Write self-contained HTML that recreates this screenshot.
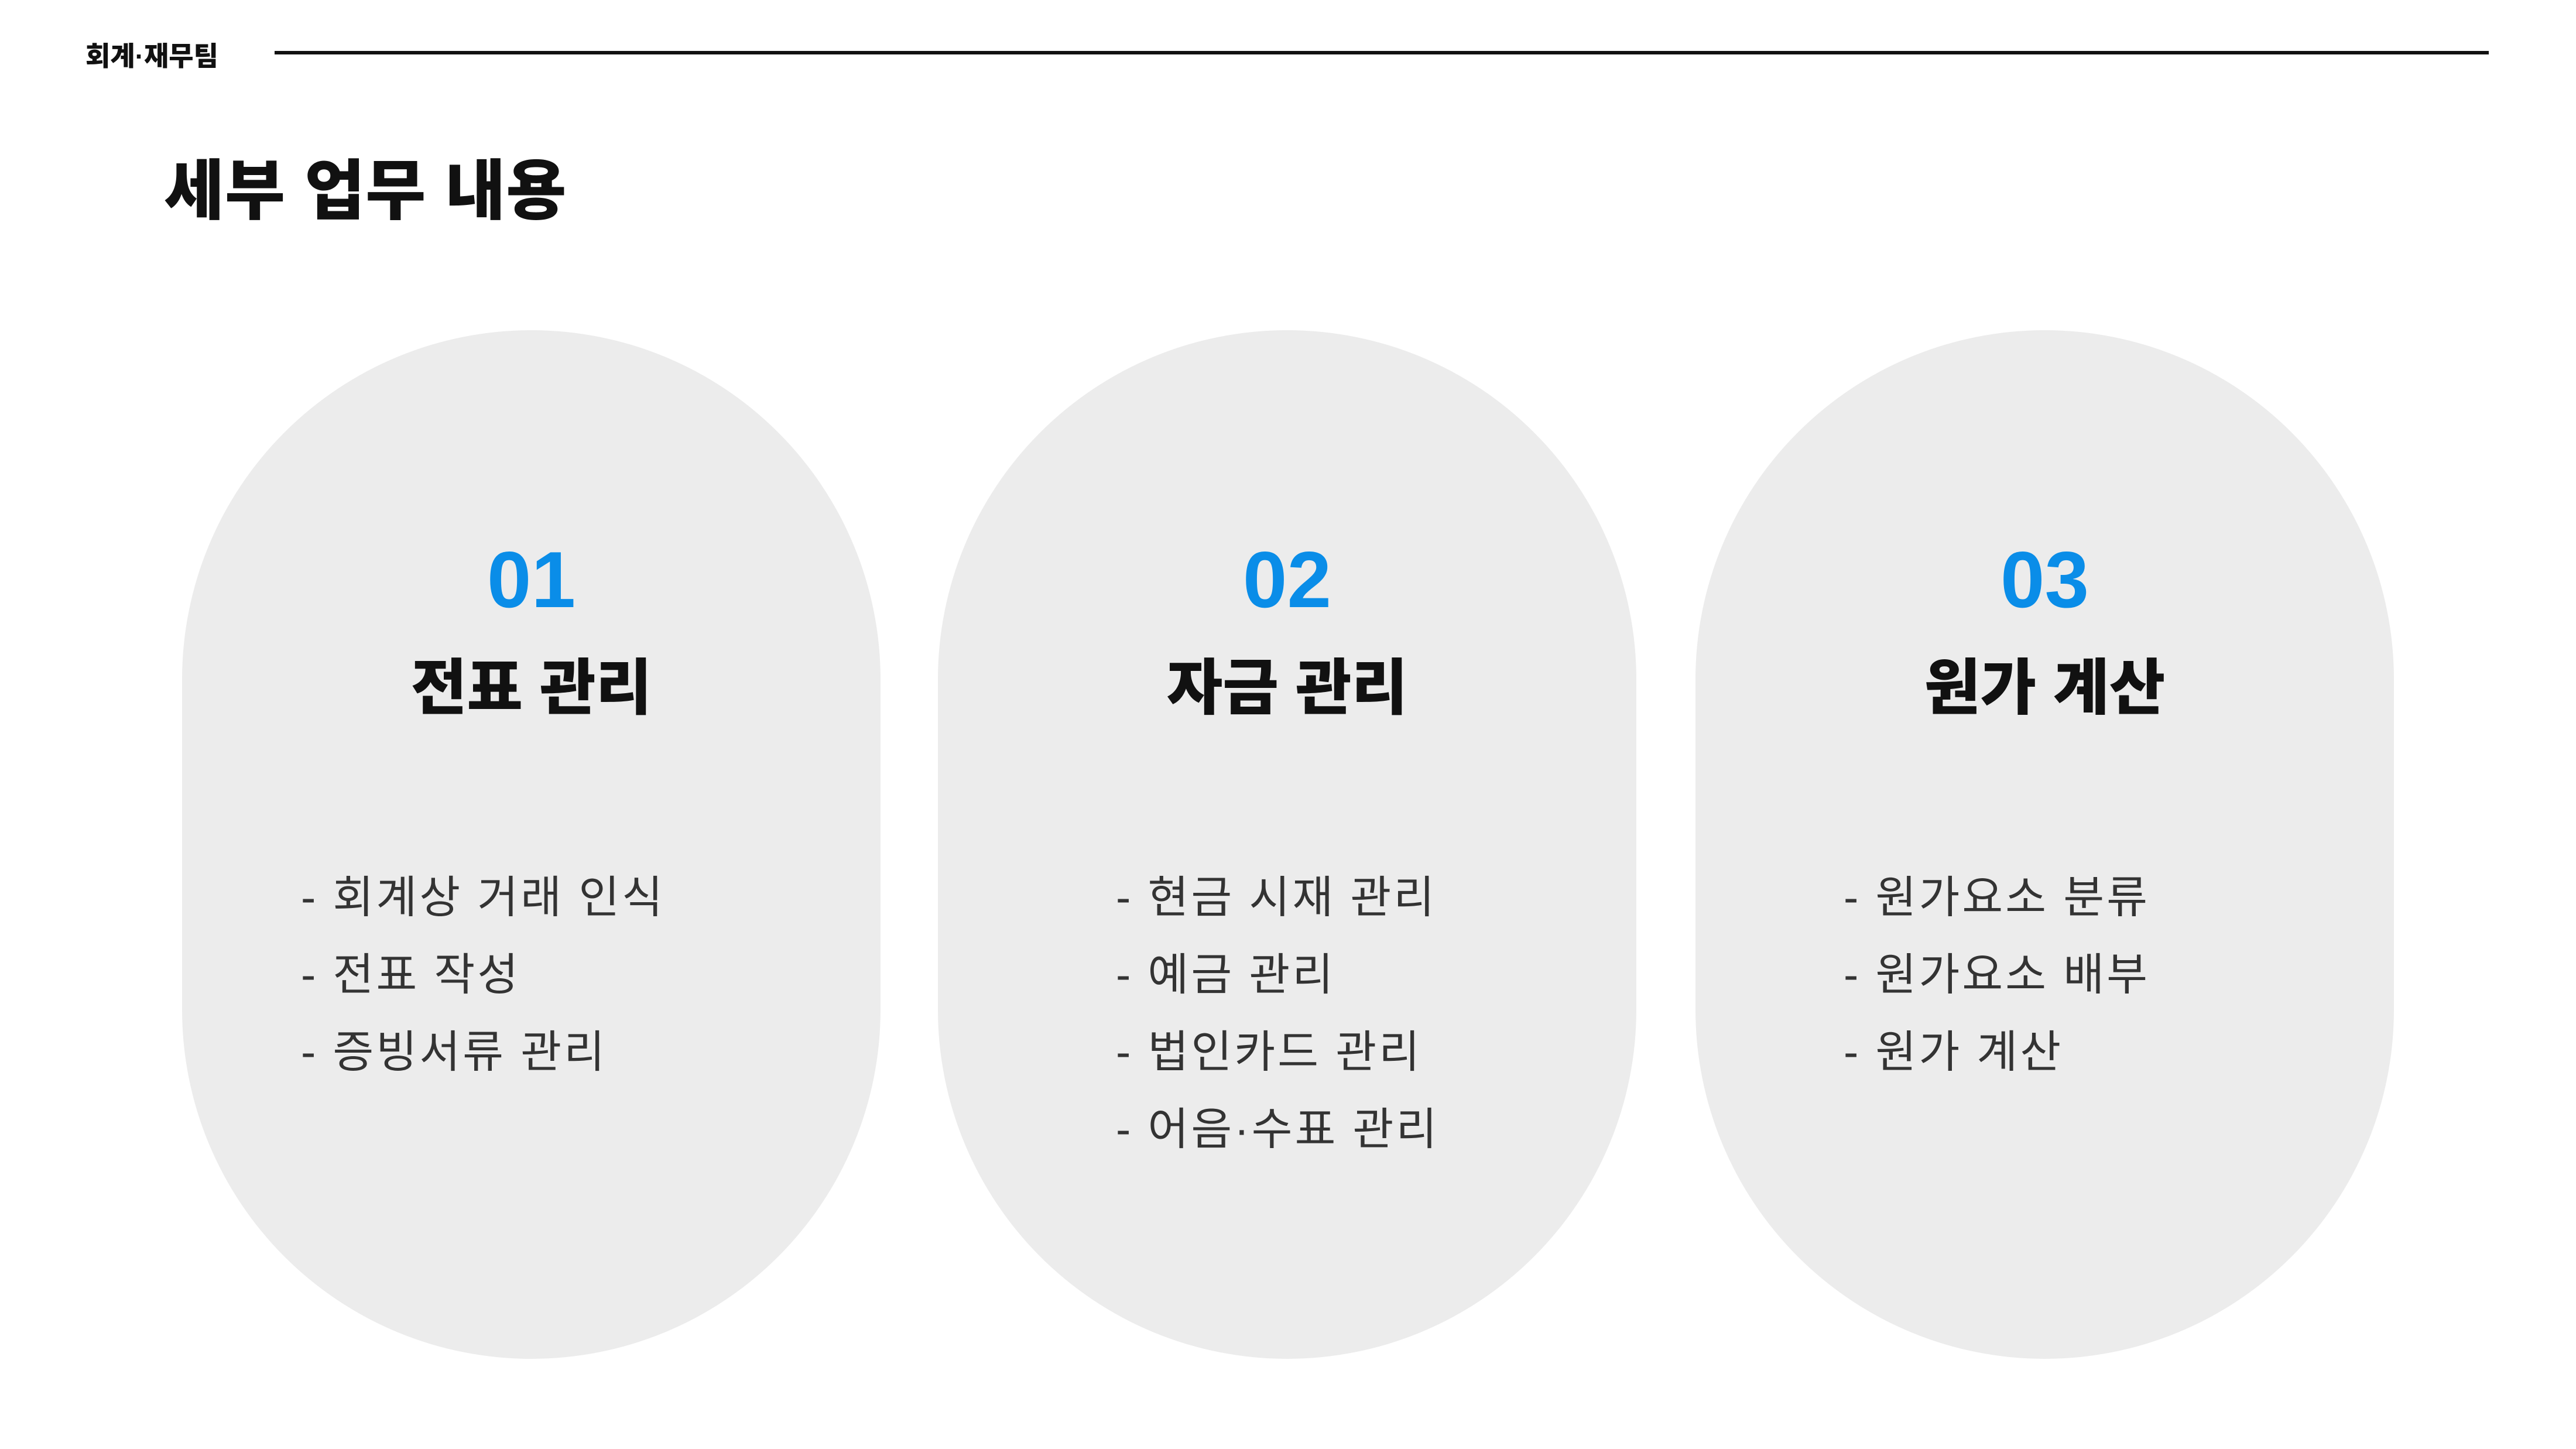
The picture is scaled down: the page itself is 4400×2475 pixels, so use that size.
<!DOCTYPE html>
<html><head><meta charset="utf-8"><style>
html,body{margin:0;padding:0;}
body{width:4400px;height:2475px;background:#fff;position:relative;overflow:hidden;font-family:"Liberation Sans","Noto Sans CJK KR",sans-serif;}
.hdr{position:absolute;left:146px;top:60px;font-size:46px;font-weight:900;color:#111;}
.line{position:absolute;left:469px;top:87px;width:3782px;height:6px;background:#111;}
.title{position:absolute;left:280px;top:236px;font-size:112px;font-weight:900;color:#111;letter-spacing:1px;}
.pill{position:absolute;top:564px;width:1193px;height:1757px;border-radius:597px;background:#ececec;}
.num{position:absolute;top:912px;width:1193px;text-align:center;font-size:136px;font-weight:900;color:#0a8de8;}
.name{position:absolute;top:1090px;width:1193px;text-align:center;font-size:104px;font-weight:900;color:#111;}
.list{position:absolute;top:1468px;font-size:76px;color:#333;line-height:132px;letter-spacing:4px;}
</style></head><body>
<div class="hdr">회계·재무팀</div>
<div class="line"></div>
<div class="title">세부 업무 내용</div>

<div class="pill" style="left:311px"></div>
<div class="pill" style="left:1602px"></div>
<div class="pill" style="left:2896px"></div>

<div class="num" style="left:311px">01</div>
<div class="num" style="left:1602px">02</div>
<div class="num" style="left:2896px">03</div>

<div class="name" style="left:311px">전표 관리</div>
<div class="name" style="left:1602px">자금 관리</div>
<div class="name" style="left:2896px">원가 계산</div>

<div class="list" style="left:514px">- 회계상 거래 인식<br>- 전표 작성<br>- 증빙서류 관리</div>
<div class="list" style="left:1906px">- 현금 시재 관리<br>- 예금 관리<br>- 법인카드 관리<br>- 어음·수표 관리</div>
<div class="list" style="left:3149px">- 원가요소 분류<br>- 원가요소 배부<br>- 원가 계산</div>
</body></html>
